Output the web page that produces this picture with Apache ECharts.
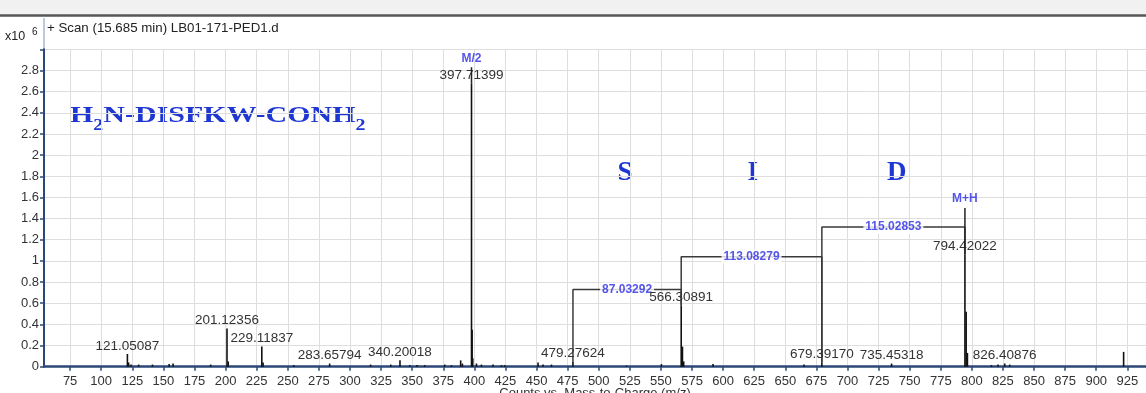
<!DOCTYPE html>
<html><head><meta charset="utf-8">
<script src="https://cdn.jsdelivr.net/npm/echarts@6/dist/echarts.min.js"></script>
<style>html,body{margin:0;padding:0;background:#fff}#c{width:1146px;height:393px}</style>
</head><body><div id="c"></div>
<script>
// ---- data (intensities in units of 10^6 counts) ----
const peakMz = [121.05087, 122.05, 124.0, 130.1, 141.2, 154.6, 157.8, 188.0, 201.12356, 202.13, 229.11837, 230.12, 254.8,
  283.65794, 316.6, 332.8, 340.20018, 348.1, 353.9, 360.1, 376.2, 381.6, 389.0, 390.4, 397.71399, 398.21, 398.72, 401.7,
  405.7, 415.0, 421.8, 424.4, 451.2, 455.2, 462.0, 479.27624, 522.3, 550.4, 566.30891, 567.31, 568.3, 591.9, 665.0,
  679.39170, 735.45318, 794.42022, 795.42, 796.42, 815.7, 821.0, 826.40876, 830.4, 922.0];
const peakHeight = [0.12, 0.04, 0.02, 0.02, 0.02, 0.025, 0.03, 0.02, 0.36, 0.05, 0.19, 0.04, 0.015,
  0.03, 0.02, 0.02, 0.06, 0.015, 0.015, 0.015, 0.02, 0.015, 0.06, 0.03, 2.68, 0.35, 0.08, 0.03,
  0.02, 0.02, 0.015, 0.015, 0.04, 0.02, 0.02, 0.05, 0.01, 0.025, 0.58, 0.19, 0.05, 0.025, 0.02,
  0.04, 0.03, 1.06, 0.52, 0.13, 0.015, 0.02, 0.03, 0.02, 0.14];
const labelMz = [121.05087, 201.12356, 229.11837, 283.65794, 340.20018, 397.71399, 479.27624, 566.30891, 679.39170, 735.45318, 794.42022, 826.40876];
const labelText = ['121.05087', '201.12356', '229.11837', '283.65794', '340.20018', '397.71399', '479.27624', '566.30891', '679.39170', '735.45318', '794.42022', '826.40876'];
const bracketFrom = [479.27624, 566.30891, 679.39170];
const bracketTo = [566.30891, 679.39170, 794.42022];
const bracketTop = [0.73, 1.04, 1.32];
const bracketText = ['87.03292', '113.08279', '115.02853'];
const ionMz = [397.71399, 794.42022];
const ionTop = [2.83, 1.50];
const ionText = ['M/2', 'M+H'];
const xTicks = [75, 100, 125, 150, 175, 200, 225, 250, 275, 300, 325, 350, 375, 400, 425, 450, 475, 500, 525, 550, 575, 600,
  625, 650, 675, 700, 725, 750, 775, 800, 825, 850, 875, 900, 925];
const residues = ['S', 'I', 'D'];

// ---- chart ----
const sans = "'Liberation Sans', Arial, sans-serif";
const serif = "'Liberation Serif', 'Times New Roman', serif";
const axisBlue = '#2c4878';
const annBlue = '#2b2be6';
const textBlue = '#1f37d2';
const heightAt = m => peakHeight[peakMz.indexOf(m)];

const series = [];
series.push({
  type: 'bar', barWidth: 1.6, silent: true, z: 3,
  itemStyle: { color: '#111' },
  label: { show: false, position: 'top', distance: 1, fontSize: 13.5, color: '#333', fontFamily: sans },
  data: peakMz.map((m, i) => {
    const li = labelMz.indexOf(m);
    return li >= 0 ? { value: [m, peakHeight[i]], label: { show: true, formatter: labelText[li] } } : [m, peakHeight[i]];
  })
});
bracketFrom.forEach((f, i) => {
  const t = bracketTo[i];
  series.push({
    type: 'line', symbol: 'none', silent: true, z: 2,
    lineStyle: { color: '#3a3a3a', width: 1.5 },
    data: [[f, heightAt(f)], [f, bracketTop[i]], [t, bracketTop[i]], [t, heightAt(t)]]
  });
});
series.push({
  type: 'scatter', symbolSize: 0, silent: true, z: 2.5,
  label: { show: true, position: 'inside', formatter: p => bracketText[p.dataIndex], color: annBlue, fontWeight: 'bold',
    fontSize: 12, fontFamily: sans, backgroundColor: '#fff', padding: [1, 2] },
  data: bracketFrom.map((f, i) => [(f + bracketTo[i]) / 2, bracketTop[i]])
});
ionMz.forEach((m, i) => {
  series.push({
    type: 'line', symbol: 'none', silent: true, z: 4,
    lineStyle: { color: '#222', width: 1.5 },
    data: [[m, heightAt(m)], [m, ionTop[i]]]
  });
});
series.push({
  type: 'scatter', symbolSize: 0, silent: true, z: 5,
  label: { show: true, position: 'top', distance: 3, formatter: p => ionText[p.dataIndex], color: annBlue, fontWeight: 'bold',
    fontSize: 12, fontFamily: sans },
  data: ionMz.map((m, i) => [m, ionTop[i]])
});

const chart = echarts.init(document.getElementById('c'), null, { renderer: 'canvas' });
chart.setOption({
  animation: false,
  backgroundColor: '#fff',
  grid: { left: 44, right: 0, top: 49.3, bottom: 26.3, containLabel: false, outerBoundsMode: 'none' },
  xAxis: {
    type: 'value', min: 54, max: 940,
    name: 'Counts vs. Mass-to-Charge (m/z)', nameLocation: 'middle', nameGap: 20, nameMoveOverlap: false,
    nameTextStyle: { fontSize: 13, color: '#333', fontFamily: sans, verticalAlign: 'top' },
    axisLine: { onZero: false, lineStyle: { color: axisBlue, width: 2.5 } },
    axisTick: { customValues: xTicks, length: 4, lineStyle: { color: axisBlue, width: 1.5 } },
    axisLabel: { customValues: xTicks, margin: 8, fontSize: 13, color: '#333', fontFamily: sans },
    splitLine: { show: true, lineStyle: { color: '#dedede', width: 1 } }
  },
  yAxis: {
    type: 'value', min: 0, max: 3, interval: 0.2,
    axisLine: { show: true, lineStyle: { color: axisBlue, width: 2 } },
    axisTick: { show: true, length: 4, lineStyle: { color: axisBlue, width: 1.5 } },
    axisLabel: { margin: 5, fontSize: 13, color: '#333', fontFamily: sans,
      formatter: v => (v > 2.9 ? '' : String(+v.toFixed(1))) },
    splitLine: { show: true, lineStyle: { color: '#dedede', width: 1 } }
  },
  series: series,
  graphic: [
    { type: 'rect', shape: { x: 0, y: 0, width: 1146, height: 14 }, style: { fill: '#f1f1f1' }, silent: true },
    { type: 'line', shape: { x1: 0, y1: 15.5, x2: 1146, y2: 15.5 }, style: { stroke: '#555', lineWidth: 2.5 }, silent: true },
    { type: 'line', shape: { x1: 44, y1: 18, x2: 44, y2: 49 }, style: { stroke: '#7d93b8', lineWidth: 1 }, silent: true },
    { type: 'text', x: 47, y: 28, style: { text: '+ Scan (15.685 min) LB01-171-PED1.d', font: "13.3px 'Liberation Sans', Arial", fill: '#222', verticalAlign: 'middle' } },
    { type: 'text', x: 5, y: 37, style: { text: 'x10', font: "12.5px 'Liberation Sans', Arial", fill: '#222', verticalAlign: 'middle' } },
    { type: 'text', x: 32, y: 32, style: { text: '6', font: "10px 'Liberation Sans', Arial", fill: '#222', verticalAlign: 'middle' } },
    { type: 'text', x: 70, y: 97.4, scaleX: 1.25, style: {
        text: '{a|H}{s|2}{a|N-DISFKW-CONH}{s|2}', verticalAlign: 'top',
        rich: {
          a: { fontFamily: serif, fontSize: 24, fontWeight: 'bold', fill: textBlue, lineHeight: 36, verticalAlign: 'middle' },
          s: { fontFamily: serif, fontSize: 16, fontWeight: 'bold', fill: textBlue, lineHeight: 16, verticalAlign: 'bottom' }
        } } },
    { type: 'text', x: 625, y: 173, style: { text: residues[0], font: "bold 27px 'Liberation Serif', serif", fill: textBlue, align: 'center', verticalAlign: 'middle' } },
    { type: 'text', x: 752.7, y: 173, style: { text: residues[1], font: "bold 27px 'Liberation Serif', serif", fill: textBlue, align: 'center', verticalAlign: 'middle' } },
    { type: 'text', x: 896.7, y: 173, style: { text: residues[2], font: "bold 27px 'Liberation Serif', serif", fill: textBlue, align: 'center', verticalAlign: 'middle' } }
  ]
});
</script></body></html>
